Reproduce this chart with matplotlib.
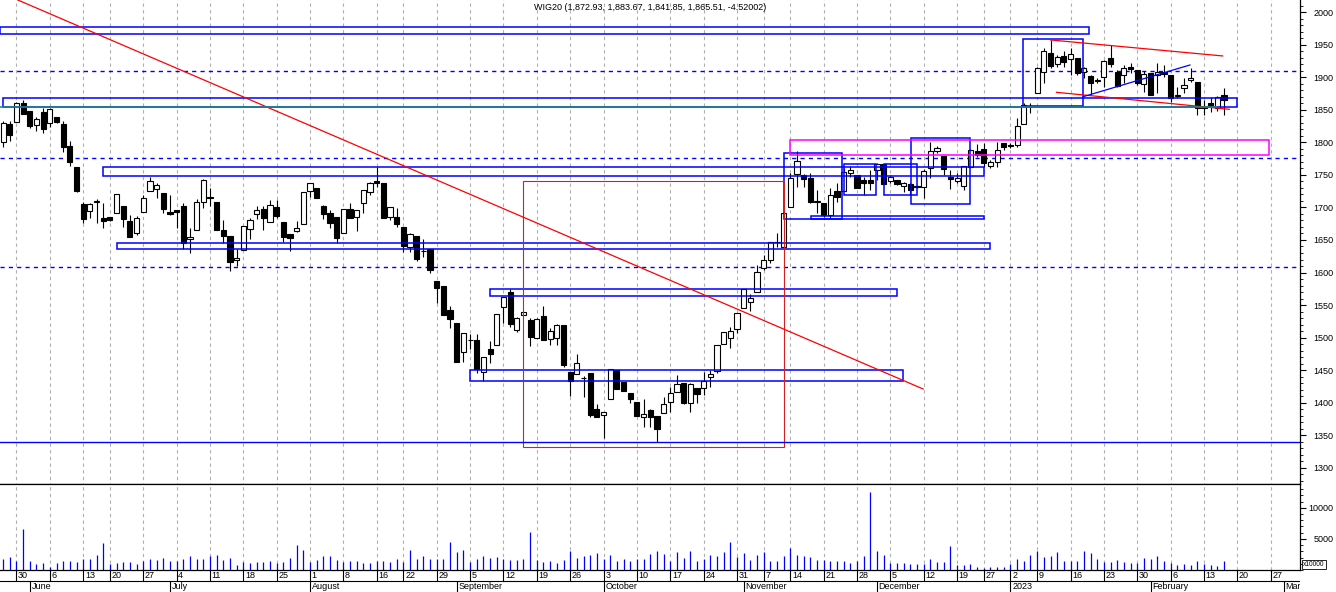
import numpy as np
import pandas as pd
import matplotlib
matplotlib.use("Agg")
import matplotlib.pyplot as plt
from matplotlib.patches import Rectangle
from matplotlib.ticker import MultipleLocator

plt.rcParams['font.family'] = ['Liberation Sans', 'DejaVu Sans']

# WIG20 daily candles, 2022-05-26 .. 2023-02-16
open_ = [1800.1, 1827.8, 1831.4, 1860.1, 1848.3, 1826.3, 1847.3, 1829.3, 1839.1, 1828.3,
         1794.5, 1762.2, 1705.9, 1694.1, 1709.0, 1683.3, 1684.8, 1691.0, 1702.3, 1679.2,
         1660.3, 1692.5, 1724.8, 1727.9, 1721.7, 1692.5, 1696.1, 1702.3, 1651.0, 1664.9,
         1708.4, 1716.6, 1708.4, 1665.4, 1656.7, 1618.7, 1634.1, 1666.4, 1690.0, 1697.7,
         1678.2, 1700.7, 1677.7, 1659.7, 1663.3, 1675.1, 1725.3, 1729.9, 1702.3, 1691.0,
         1684.8, 1661.3, 1697.7, 1684.8, 1706.4, 1723.8, 1740.7, 1737.1, 1684.8, 1685.4,
         1670.0, 1638.7, 1655.6, 1632.6, 1636.2, 1587.0, 1579.3, 1542.4, 1522.4, 1477.3,
         1496.3, 1496.3, 1446.6, 1482.4, 1488.1, 1547.0, 1569.6, 1511.7, 1534.2, 1527.0,
         1498.8, 1533.2, 1497.3, 1498.8, 1518.8, 1446.6, 1443.5, 1437.4, 1445.0, 1389.7,
         1381.0, 1405.1, 1450.2, 1432.2, 1414.3, 1400.5, 1378.4, 1388.7, 1379.5, 1383.5,
         1400.5, 1416.9, 1430.7, 1398.9, 1422.0, 1422.0, 1439.9, 1449.1, 1489.6, 1498.8,
         1512.7, 1545.0, 1554.2, 1569.6, 1606.4, 1619.3, 1646.4, 1638.7, 1700.2, 1752.0,
         1749.4, 1744.8, 1708.9, 1706.4, 1687.9, 1725.3, 1725.3, 1753.5, 1750.0, 1742.2,
         1742.2, 1757.6, 1766.3, 1740.7, 1742.2, 1733.5, 1735.6, 1732.5, 1732.0, 1761.2,
         1787.3, 1779.1, 1747.4, 1740.7, 1733.5, 1762.7, 1786.8, 1789.9, 1764.3, 1770.4,
         1798.6, 1796.0, 1795.5, 1827.8, 1856.0, 1875.5, 1907.8, 1938.0, 1920.1, 1932.9,
         1928.3, 1930.3, 1908.8, 1902.6, 1895.0, 1901.1, 1930.3, 1908.8, 1903.7, 1916.5,
         1911.3, 1889.3, 1906.2, 1903.7, 1907.8, 1903.7, 1871.9, 1883.2, 1896.0, 1892.4,
         1853.4, 1860.1, 1852.4, 1872.93]

high = [1832.9, 1832.9, 1861.6, 1865.2, 1848.3, 1839.6, 1852.4, 1852.4, 1839.1, 1832.9,
        1802.2, 1762.2, 1709.0, 1706.4, 1712.5, 1706.4, 1684.8, 1720.2, 1702.3, 1688.4,
        1686.9, 1719.2, 1747.4, 1737.1, 1721.7, 1719.2, 1696.1, 1706.4, 1667.9, 1712.5,
        1743.8, 1729.4, 1708.4, 1680.7, 1656.7, 1635.7, 1671.5, 1683.3, 1702.8, 1702.8,
        1711.5, 1711.5, 1677.7, 1659.7, 1679.7, 1723.3, 1738.1, 1729.9, 1703.8, 1696.1,
        1684.8, 1697.7, 1706.4, 1695.6, 1726.3, 1739.7, 1762.7, 1737.1, 1700.7, 1698.7,
        1670.0, 1660.0, 1655.6, 1651.5, 1636.2, 1587.0, 1579.3, 1548.5, 1522.4, 1506.5,
        1505.5, 1505.5, 1469.6, 1494.7, 1535.7, 1561.9, 1574.2, 1532.2, 1539.8, 1529.6,
        1529.6, 1548.5, 1514.2, 1520.9, 1518.8, 1446.6, 1474.2, 1441.5, 1445.0, 1397.4,
        1386.1, 1451.2, 1450.2, 1432.2, 1414.3, 1400.5, 1405.1, 1390.7, 1379.5, 1409.2,
        1423.5, 1442.5, 1430.7, 1429.7, 1422.0, 1447.6, 1450.2, 1488.6, 1508.1, 1516.8,
        1537.3, 1574.2, 1567.0, 1611.6, 1627.0, 1646.4, 1660.2, 1691.0, 1752.5, 1786.8,
        1751.5, 1752.5, 1726.9, 1706.4, 1729.4, 1737.1, 1760.2, 1764.3, 1750.0, 1747.4,
        1757.6, 1767.9, 1766.3, 1749.9, 1742.2, 1739.7, 1737.1, 1734.0, 1758.6, 1801.2,
        1794.5, 1779.1, 1757.6, 1752.5, 1764.3, 1789.4, 1797.1, 1798.6, 1773.0, 1801.2,
        1798.6, 1798.6, 1838.1, 1860.1, 1860.1, 1916.5, 1944.6, 1957.5, 1934.4, 1940.5,
        1944.6, 1930.3, 1916.5, 1903.7, 1898.5, 1926.7, 1949.8, 1911.3, 1919.0, 1922.6,
        1911.3, 1909.8, 1906.2, 1921.6, 1919.0, 1903.7, 1885.7, 1898.5, 1913.9, 1892.4,
        1865.2, 1869.3, 1871.4, 1883.67]

low = [1793.5, 1802.7, 1831.4, 1844.2, 1821.7, 1817.6, 1815.0, 1824.2, 1829.3, 1785.8,
       1764.3, 1723.3, 1676.1, 1683.3, 1675.6, 1667.9, 1679.7, 1691.0, 1670.5, 1655.1,
       1657.7, 1692.5, 1724.8, 1714.1, 1692.0, 1688.4, 1667.9, 1636.2, 1630.5, 1664.9,
       1699.7, 1702.8, 1664.9, 1645.9, 1602.9, 1610.0, 1634.1, 1651.0, 1682.8, 1665.4,
       1678.2, 1683.3, 1647.4, 1633.6, 1662.8, 1675.1, 1716.6, 1715.1, 1682.3, 1667.9,
       1645.9, 1661.3, 1684.3, 1664.4, 1692.0, 1719.7, 1732.0, 1684.3, 1680.7, 1670.5,
       1632.1, 1632.1, 1618.2, 1624.4, 1598.8, 1553.7, 1535.2, 1515.2, 1463.0, 1463.0,
       1482.4, 1445.0, 1433.2, 1461.4, 1488.1, 1521.9, 1516.8, 1509.1, 1534.2, 1487.6,
       1498.8, 1496.3, 1488.6, 1488.6, 1455.3, 1410.7, 1443.5, 1409.2, 1378.4, 1378.4,
       1345.1, 1405.1, 1420.4, 1418.4, 1398.9, 1380.0, 1362.0, 1363.1, 1340.0, 1383.5,
       1385.1, 1416.9, 1397.4, 1386.1, 1398.9, 1411.7, 1423.5, 1445.0, 1489.6, 1483.5,
       1507.6, 1545.0, 1541.4, 1569.6, 1603.9, 1614.2, 1639.7, 1638.7, 1700.2, 1732.0,
       1732.0, 1706.4, 1691.0, 1685.9, 1683.3, 1708.9, 1725.3, 1747.4, 1729.4, 1719.2,
       1726.9, 1742.2, 1735.6, 1738.1, 1734.6, 1723.3, 1719.2, 1730.0, 1714.1, 1744.8,
       1783.2, 1749.9, 1727.9, 1738.1, 1726.9, 1762.7, 1777.1, 1762.7, 1760.2, 1762.7,
       1788.4, 1790.9, 1792.5, 1827.8, 1844.7, 1875.5, 1890.8, 1913.9, 1916.5, 1916.5,
       1903.7, 1903.7, 1898.5, 1872.9, 1890.8, 1885.7, 1916.5, 1885.7, 1890.8, 1906.2,
       1888.3, 1878.0, 1872.9, 1875.5, 1901.1, 1862.7, 1867.8, 1875.5, 1893.4, 1842.2,
       1842.2, 1847.3, 1848.8, 1841.85]

close = [1829.3, 1811.9, 1860.1, 1844.2, 1824.7, 1835.5, 1821.1, 1850.9, 1830.9, 1793.5,
         1769.4, 1725.8, 1682.8, 1704.8, 1709.5, 1678.7, 1680.2, 1720.2, 1682.3, 1655.1,
         1683.3, 1714.6, 1740.2, 1734.0, 1697.1, 1690.5, 1693.6, 1644.9, 1655.1, 1709.0,
         1742.2, 1714.1, 1664.9, 1656.7, 1615.7, 1622.3, 1671.5, 1680.2, 1696.1, 1684.3,
         1703.3, 1687.4, 1655.1, 1652.6, 1668.5, 1723.3, 1737.1, 1715.1, 1689.5, 1675.6,
         1653.6, 1697.7, 1684.3, 1695.6, 1726.3, 1737.1, 1737.1, 1684.3, 1700.7, 1675.1,
         1641.3, 1659.2, 1620.8, 1633.2, 1603.4, 1575.7, 1535.2, 1529.1, 1463.0, 1506.5,
         1496.9, 1451.7, 1469.6, 1474.2, 1535.7, 1561.9, 1520.4, 1529.6, 1539.8, 1501.4,
         1528.0, 1496.3, 1509.6, 1518.8, 1458.4, 1433.7, 1460.4, 1437.9, 1380.5, 1378.4,
         1386.1, 1451.2, 1420.4, 1418.4, 1405.1, 1380.0, 1382.0, 1377.4, 1358.9, 1397.4,
         1414.3, 1428.1, 1398.9, 1428.1, 1412.7, 1433.7, 1444.0, 1488.6, 1508.1, 1510.1,
         1537.3, 1574.2, 1560.3, 1601.3, 1619.3, 1646.4, 1646.9, 1691.0, 1744.8, 1770.9,
         1743.3, 1708.9, 1709.5, 1688.5, 1718.7, 1715.6, 1755.1, 1757.6, 1729.4, 1737.1,
         1737.1, 1766.8, 1735.6, 1747.4, 1735.6, 1737.1, 1727.4, 1731.9, 1756.6, 1786.8,
         1790.9, 1758.6, 1743.3, 1744.8, 1764.3, 1788.4, 1780.7, 1767.9, 1769.4, 1788.4,
         1793.5, 1794.5, 1825.8, 1857.5, 1856.5, 1914.9, 1940.5, 1917.5, 1931.8, 1924.2,
         1935.4, 1906.2, 1913.9, 1891.9, 1895.5, 1925.2, 1920.1, 1887.3, 1913.9, 1913.4,
         1891.9, 1904.7, 1872.9, 1907.8, 1905.2, 1867.8, 1872.4, 1887.8, 1899.6, 1852.4,
         1853.9, 1856.5, 1870.3, 1865.51]

volume = [1790, 2050, 1420, 6620, 1420, 950, 1100, 470, 1100, 1420,
          1420, 1260, 1730, 1730, 2370, 4260, 950, 1100, 1260, 1260,
          950, 1420, 1730, 1580, 1890, 1420, 1420, 1730, 2210, 1730,
          1730, 2210, 2370, 1580, 1890, 790, 1260, 1100, 1260, 1260,
          1420, 1100, 1260, 1890, 3940, 3150, 1260, 1580, 2210, 2210,
          1580, 1260, 1420, 1420, 1100, 1100, 1420, 1420, 1260, 1730,
          1260, 3150, 1730, 2210, 1730, 1730, 1730, 4420, 2840, 3150,
          1260, 1730, 2210, 1890, 2050, 1730, 1580, 1580, 1730, 6150,
          1580, 1260, 1420, 1100, 1580, 3000, 1890, 2210, 2370, 2680,
          1730, 2370, 1420, 1730, 1420, 1730, 1730, 2520, 3000, 2520,
          1420, 2840, 1890, 3000, 1420, 1730, 2370, 2210, 2840, 4420,
          2050, 2680, 1580, 2370, 2840, 1420, 1420, 2210, 3470, 2370,
          2210, 2050, 1580, 1580, 1420, 1420, 1420, 1100, 1420, 2210,
          12460, 3000, 2370, 1100, 1100, 1100, 950, 950, 950, 1730,
          1260, 1260, 3780, 790, 790, 950, 470, 320, 470, 470,
          470, 900, 1730, 1420, 2370, 3000, 2050, 2210, 2840, 1420,
          1420, 1420, 3000, 2680, 1730, 1260, 1260, 1580, 1260, 1100,
          1100, 1890, 1730, 2210, 1420, 1100, 790, 950, 790, 1420,
          950, 790, 630, 1420]

holidays = ['2022-06-16', '2022-08-15', '2022-11-01', '2022-11-11',
            '2022-12-23', '2022-12-26', '2023-01-06']

title = 'WIG20 (1,872.93, 1,883.67, 1,841.85, 1,865.51, -4.52002)'

# drawn analysis objects: (first day, last day, low price, high price)
blue_boxes = [(-0.5, 162.8, 1966.6, 1976.9), (0.0, 184.9, 1854.6, 1867.5),
              (15.0, 147.0, 1748.0, 1761.8), (17.1, 147.9, 1636.1, 1645.3),
              (73.0, 134.0, 1564.4, 1574.7), (70.0, 134.9, 1433.7, 1450.2),
              (117.1, 125.8, 1681.8, 1783.3), (121.1, 147.0, 1681.8, 1686.9),
              (126.0, 130.8, 1719.2, 1766.4), (132.0, 137.0, 1719.2, 1766.4),
              (136.1, 144.9, 1705.3, 1806.3), (152.9, 161.8, 1856.4, 1959.0)]
magenta_box = (118.0, 189.8, 1780.2, 1803.2)
red_box = (78.0, 117.0, 1332.3, 1740.7)
dashed_levels = [1910.5, 1775.5, 1609.0]
support_level = 1339.1
teal_level = (-0.5, 181.9, 1853.9)
# trend lines: (day0, price0, day1, price1)
red_lines = [(2.2, 2018.9, 137.9, 1421.0), (157.0, 1957.5, 182.8, 1932.9),
             (157.9, 1877.0, 183.8, 1850.9)]
blue_lines = [(161.9, 1870.3, 177.9, 1919.0)]

# trading calendar (candles + empty future days)
days = pd.bdate_range('2022-05-26', '2023-03-10')
days = days[~days.isin(pd.to_datetime(holidays))]
n = len(close)
idx = np.arange(n)

week = days.isocalendar().week.values
week_starts = [i for i in range(1, len(days)) if week[i] != week[i - 1]]
month_starts = [i for i in range(1, len(days)) if days[i].month != days[i - 1].month]

W, H = 1336, 592
fig = plt.figure(figsize=(W / 100, H / 100), dpi=100)
ax = fig.add_axes([0, (H - 483.5) / H, 1300 / W, 483.5 / H])
axv = fig.add_axes([0, (H - 570) / H, 1300 / W, 86.5 / H])
axd = fig.add_axes([0, 0, 1300 / W, 22 / H])

xlim = (-0.47, 194.4)
for a in (ax, axv, axd):
    a.set_xlim(*xlim)

# grid on week starts
for a, lo, hi in ((ax, 1200, 2100), (axv, 0, 20000)):
    a.vlines(week_starts, lo, hi, colors='#b0b0b0', linestyles=(0, (3, 3)), lw=0.8, zorder=0)

# horizontal dashed levels
for lv in dashed_levels:
    ax.axhline(lv, color='#0000ff', lw=1.0, ls=(0, (3, 3)), zorder=1)

# candles
op = np.array(open_)
cl = np.array(close)
up = cl >= op
ax.vlines(idx, low, high, colors='black', lw=0.8, zorder=2)
ax.bar(idx, np.abs(cl - op), bottom=np.minimum(op, cl), width=0.78,
       color=np.where(up, 'white', 'black'), edgecolor='black', linewidth=0.8, zorder=2.5)

# overlays
for x0, x1, lo, hi in blue_boxes:
    ax.add_patch(Rectangle((x0, lo), x1 - x0, hi - lo, fill=False, ec='#0000ff', lw=1.1, zorder=3))
x0, x1, lo, hi = magenta_box
ax.add_patch(Rectangle((x0, lo), x1 - x0, hi - lo, fill=False, ec='#ff00ff', lw=1.1, zorder=3))
x0, x1, lo, hi = red_box
ax.add_patch(Rectangle((x0, lo), x1 - x0, hi - lo, fill=False, ec='#d42020', lw=0.8, zorder=3))
ax.axhline(support_level, color='#0000ff', lw=1.0, zorder=3)
ax.hlines(teal_level[2], teal_level[0], teal_level[1], colors='#1a8c80', lw=1.1, zorder=3.1)
for d0, p0, d1, p1 in red_lines:
    ax.plot([d0, d1], [p0, p1], color='#ff0000', lw=0.9, zorder=3)
for d0, p0, d1, p1 in blue_lines:
    ax.plot([d0, d1], [p0, p1], color='#0000ff', lw=0.9, zorder=3)

ax.set_ylim(1275.7, 2018.9)
ax.yaxis.tick_right()
ax.set_yticks(np.arange(1300, 2001, 50))
ax.yaxis.set_minor_locator(MultipleLocator(10))
ax.tick_params(axis='y', which='major', direction='out', length=4, width=0.8, labelsize=6.5, pad=20)
ax.tick_params(axis='y', which='minor', direction='out', length=2, width=0.6)
for t in ax.get_yticklabels():
    t.set_horizontalalignment('right')
ax.set_xticks([])
for s in ('top', 'left'):
    ax.spines[s].set_visible(False)
ax.spines['right'].set_linewidth(0.9)
ax.spines['bottom'].set_linewidth(0.9)

# volume
axv.vlines(idx, 0, volume, colors='#0000ff', lw=0.9, zorder=2)
axv.set_ylim(0, 13900)
axv.yaxis.tick_right()
axv.set_yticks([5000, 10000])
axv.yaxis.set_minor_locator(MultipleLocator(1000))
axv.tick_params(axis='y', which='major', direction='out', length=4, width=0.8, labelsize=6.5, pad=20)
axv.tick_params(axis='y', which='minor', direction='out', length=2, width=0.6)
for t in axv.get_yticklabels():
    t.set_horizontalalignment('right')
axv.set_xticks([])
axv.spines['left'].set_visible(False)
for s in ('top', 'right', 'bottom'):
    axv.spines[s].set_linewidth(0.9)
    axv.spines[s].set_color('black')

# date strip
axd.set_ylim(0, 1)
axd.axis('off')
axd.axhline(0.5, color='black', lw=0.8)
axd.vlines(week_starts, 0.5, 1.0, colors='black', lw=0.8)
axd.vlines(month_starts, 0.0, 0.5, colors='black', lw=0.8)
for i in week_starts:
    axd.text(i + 0.25, 0.74, str(days[i].day), fontsize=6.5, ha='left', va='center', clip_on=True)
for i in month_starts:
    d = days[i]
    name = str(d.year) if d.month == 1 else d.strftime('%B')
    axd.text(i + 0.25, 0.24, name, fontsize=6.5, ha='left', va='center', clip_on=True)

fig.text(650 / W, 1 - 7 / H, title, fontsize=6.5, ha='center', va='center')
fig.text(1314 / W, 1 - 564.5 / H, 'x10000', fontsize=4.8, ha='center', va='center',
         bbox=dict(boxstyle='square,pad=0.15', fc='white', ec='black', lw=0.6))

fig.savefig('out.png', dpi=100)
